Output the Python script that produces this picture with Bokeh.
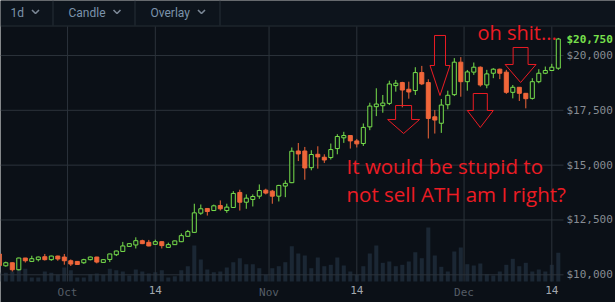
import pandas as pd
from bokeh.plotting import figure
from bokeh.models import (Range1d, FixedTicker, NumeralTickFormatter, LinearAxis,
                          ColumnDataSource)
from bokeh.core.properties import value
from bokeh.embed import file_html
from bokeh.resources import INLINE

# ---------------- data ----------------
first_day = "2017-09-20 12:00"
opens = [10950, 10410, 10550, 10230, 10765, 10610, 10690, 10825, 10690, 10855,
         10810, 10640, 10610, 10550, 10690, 10810, 10565, 10700, 10915, 11065,
         11295, 11360, 11555, 11480, 11390, 11510, 11250, 11375, 11510, 11755,
         11935, 12810, 13025, 12930, 13160, 12930, 13070, 13755, 13310, 13435,
         13585, 13860, 13815, 13585, 14045, 14200, 15645, 15645, 14885, 15495,
         15360, 15345, 15755, 16245, 16350, 16105, 15985, 16745, 17665, 17710,
         17815, 18625, 18765, 18460, 18400, 19220, 18765, 17205, 16910, 17755,
         18215, 19695, 18805, 19240, 19465, 18655, 19190, 19375, 19240, 18320,
         18550, 18275, 18045, 18805, 19190, 19315, 19420]
closes = [10420, 10550, 10230, 10765, 10640, 10735, 10810, 10690, 10855, 10720,
          10640, 10490, 10470, 10690, 10810, 10580, 10690, 10950, 11085, 11315,
          11420, 11555, 11420, 11315, 11510, 11330, 11375, 11545, 11785, 11970,
          12825, 13010, 12885, 13145, 13010, 13085, 13710, 13310, 13495, 13570,
          13845, 13725, 13585, 14075, 14170, 15635, 15510, 14870, 15485, 15375,
          15235, 15710, 16305, 16350, 16105, 15970, 16720, 17695, 17785, 17830,
          18700, 18735, 18425, 18335, 19220, 18705, 17130, 17055, 17740, 18185,
          19695, 18805, 19250, 19465, 18655, 19160, 19375, 19190, 18320, 18550,
          18275, 18030, 18805, 19190, 19315, 19465, 20750]
highs = [11000, 10600, 10560, 10780, 10770, 10870, 10830, 10950, 10870, 10870,
         10950, 10700, 10620, 10730, 10830, 10820, 10700, 10960, 11100, 11500,
         11440, 11710, 11600, 11590, 11600, 11520, 11465, 11560, 11890, 12045,
         13240, 13205, 13040, 13200, 13390, 13240, 13815, 13880, 13665, 13665,
         14120, 13925, 13870, 14100, 14305, 15805, 16010, 15830, 15680, 15860,
         15495, 15985, 16410, 16520, 16360, 16195, 16900, 17845, 18505, 18200,
         18850, 18885, 18800, 18805, 19465, 19525, 18915, 17510, 18015, 18395,
         19880, 19925, 19340, 19680, 19500, 19345, 19420, 19400, 19345, 18655,
         18560, 18290, 18965, 19375, 19495, 19620, 20800]
lows = [10380, 10370, 10150, 10200, 10560, 10600, 10610, 10650, 10640, 10640,
        10460, 10400, 10450, 10500, 10660, 10520, 10550, 10580, 10855, 11050,
        11280, 11200, 11400, 11300, 11370, 11200, 11240, 11360, 11490, 11740,
        11920, 12735, 12700, 12910, 12930, 12825, 13050, 12930, 13010, 13115,
        13465, 13665, 13240, 13345, 13540, 14180, 15185, 14335, 14765, 14840,
        15100, 15255, 15495, 16015, 15755, 15805, 15875, 16595, 17235, 17390,
        17740, 18350, 17635, 18030, 18200, 18650, 16215, 16440, 16470, 17545,
        18150, 18120, 18395, 19115, 18580, 18505, 18965, 18920, 18250, 18045,
        17925, 17590, 17990, 18735, 19150, 19290, 19345]
volumes = [9, 8.7, 10, 12.7, 12.7, 4, 4, 10, 8.7, 6.7,
           14, 11.3, 4, 4, 7.3, 8, 6.7, 12.7, 11.3, 10,
           6, 12, 10, 8, 9.3, 11.3, 4, 5.3, 11.3, 15.3,
           36, 22, 12, 9.3, 10, 14, 19.3, 23.3, 17.3, 17.3,
           13.3, 6.7, 13.3, 15.3, 19.3, 35.3, 28, 26, 13.3, 24,
           15.3, 16.7, 24, 16, 10, 6.7, 15.3, 28, 36, 18.7,
           20, 15.3, 16.7, 20, 29.3, 23.3, 54, 26, 14.7, 10,
           30, 34, 17.3, 16, 18, 7.3, 6, 10, 16.7, 22.7,
           15.3, 18.7, 10, 12, 10, 16.7, 28.7]

price_ticks = [10000, 12500, 15000, 17500, 20000]
month_ticks = ["2017-10-01 00:00", "2017-11-01 00:00", "2017-12-01 00:00"]
month_labels = ["Oct", "Nov", "Dec"]
day_ticks = ["2017-10-14 12:00", "2017-11-14 12:00", "2017-12-14 12:00"]
day_labels = ["14", "14", "14"]

note_lines = ["It would be stupid to", "not sell ATH am I right?"]
note2 = "oh shit..."
menu_items = ["1d", "Candle", "Overlay"]

# ---------------- styles ----------------
BG = "#0b1017"
HDR = "#0d141c"
GRID = "#2c333b"
SEP = "#262e37"
GREEN = "#78e04c"
ORANGE = "#f0663a"
RED = "#ec1c24"
VOLC = "#1b2734"
MONO = "DejaVu Sans Mono"
DAY = 86400000

W, H = 615, 302
Y_LO, Y_HI = 8737, 22507          # price range covered by the whole picture height
Y_TOP = 21322                     # price level at the bottom of the menu bar
VOL_BASE = 9694                   # price level of the volume baseline / date axis


def ms(s):
    return int(pd.Timestamp(s).value // 10**6)


x0 = ms(first_day)
xs = [x0 + i * DAY for i in range(len(opens))]


def kx(k):
    return x0 + k * DAY


X_LO, X_HI = kx(0.185), kx(94.8)
X_EDGE = kx(86.8)                 # right edge of the plotting area

inc = [c >= o for o, c in zip(opens, closes)]
src = ColumnDataSource(dict(
    x=xs, open=opens, close=closes, high=highs, low=lows, vol=volumes,
    top=[max(o, c) for o, c in zip(opens, closes)],
    bottom=[min(o, c) for o, c in zip(opens, closes)],
    line=[GREEN if u else ORANGE for u in inc],
    fill=[BG if u else ORANGE for u in inc],
))

p = figure(width=W, height=H,
           x_range=Range1d(X_LO, X_HI), y_range=Range1d(Y_LO, Y_HI),
           toolbar_location=None, output_backend="svg", y_axis_location="right",
           min_border=0, background_fill_color=BG, border_fill_color=BG,
           outline_line_color=None)
p.grid.visible = False
p.extra_y_ranges = {"vol": Range1d(-21, 281), "py": Range1d(H, 0)}
p.extra_x_ranges = {"px": Range1d(0, W)}

# volume
p.vbar(x="x", width=0.62 * DAY, top="vol", bottom=0, y_range_name="vol",
       fill_color=VOLC, line_color=None, source=src)

# grid lines, limited to the plotting area
all_dt = [ms(d) for d in month_ticks + day_ticks]
p.segment(x0=all_dt, y0=[VOL_BASE] * len(all_dt), x1=all_dt, y1=[Y_TOP] * len(all_dt),
          line_color=GRID, line_width=1)
p.segment(x0=[X_LO] * len(price_ticks), y0=price_ticks, x1=[X_EDGE] * len(price_ticks),
          y1=price_ticks, line_color=GRID, line_width=1)

# candles
p.segment(x0="x", y0="low", x1="x", y1="high", line_color="line", line_width=1, source=src)
p.vbar(x="x", width=0.62 * DAY, top="top", bottom="bottom", fill_color="fill",
       line_color="line", line_width=1, source=src)

# menu bar (pixel coordinates)
p.quad(left=[0], right=[W], top=[0], bottom=[25], fill_color=HDR, line_color=None,
       x_range_name="px", y_range_name="py")
menu_x = [10, 68, 150]
chev_x = [35, 116.5, 201]
p.text(x=menu_x, y=[12.5] * 3, text=menu_items, text_font=value("Roboto"),
       text_font_size="12px", text_color="#7b93ab", text_baseline="middle",
       x_range_name="px", y_range_name="py")
p.multi_line(xs=[[c - 3.5, c, c + 3.5] for c in chev_x],
             ys=[[9.5, 13, 9.5]] * 3, line_color="#7b8896", line_width=1.6,
             x_range_name="px", y_range_name="py")
p.segment(x0=[52.5, 134.5, 219.5], y0=[0] * 3, x1=[52.5, 134.5, 219.5], y1=[25] * 3,
          line_color=SEP, line_width=1, x_range_name="px", y_range_name="py")
p.segment(x0=[0], y0=[25.5], x1=[W], y1=[25.5], line_color=SEP, line_width=1,
          x_range_name="px", y_range_name="py")

# arrows (annotations drawn on the chart)
arrows = [  # centre (day index), shaft half, head half, top, shaft bottom, tip
    (62.2, 1.23, 2.46, 17720, 17082, 16443),
    (67.8, 0.85, 1.54, 20912, 19544, 18176),
    (74.0, 1.08, 2.00, 18267, 17492, 16717),
    (80.2, 1.15, 2.38, 20365, 19590, 18769),
]
axs, ays = [], []
for c, s, h, t, sb, tip in arrows:
    axs.append([kx(c - s), kx(c + s), kx(c + s), kx(c + h), kx(c), kx(c - h), kx(c - s)])
    ays.append([t, t, sb, sb, tip, sb, sb])
p.patches(xs=axs, ys=ays, fill_alpha=0, line_color=RED, line_width=1)

p.text(x=[kx(53.42), kx(53.42)], y=[14961, 13684], text=note_lines,
       text_font=value("Open Sans"), text_font_size="20.5px",
       text_color=RED, text_baseline="middle", text_align="left")
p.text(x=[kx(73.57)], y=[21050], text=[note2],
       text_font=value("Open Sans"), text_font_size="20px",
       text_color=RED, text_baseline="middle", text_align="left")


def style_axis(ax, color, bold=False):
    ax.major_label_text_font = MONO
    ax.major_label_text_font_size = "11px"
    ax.major_label_text_color = color
    if bold:
        ax.major_label_text_font_style = "bold"
    ax.axis_line_color = None
    ax.major_tick_line_color = None
    ax.minor_tick_line_color = None
    ax.major_tick_out = 0
    ax.major_tick_in = 0


# price axis (right)
ya = p.yaxis[0]
ya.fixed_location = X_EDGE
ya.ticker = FixedTicker(ticks=price_ticks)
ya.formatter = NumeralTickFormatter(format="$0,0")
style_axis(ya, "#868c93")
ya.major_label_standoff = 3

# last price tag
ya2 = LinearAxis(fixed_location=X_EDGE, ticker=FixedTicker(ticks=[closes[-1]]),
                 formatter=NumeralTickFormatter(format="$0,0"))
style_axis(ya2, GREEN, bold=True)
ya2.major_label_standoff = 3
p.add_layout(ya2, "right")

# date axes (bottom): months dim, day-of-month bright
xa = p.xaxis[0]
xa.fixed_location = VOL_BASE
m_ms = [ms(d) for d in month_ticks]
xa.ticker = FixedTicker(ticks=m_ms)
xa.major_label_overrides = {t: lab for t, lab in zip(m_ms, month_labels)}
style_axis(xa, "#555d66")
xa.major_label_standoff = 4

d_ms = [ms(d) for d in day_ticks]
xa2 = LinearAxis(fixed_location=VOL_BASE, ticker=FixedTicker(ticks=d_ms),
                 major_label_overrides={t: lab for t, lab in zip(d_ms, day_labels)})
style_axis(xa2, "#a2a8ae")
xa2.major_label_standoff = 4
p.add_layout(xa2, "below")

open("out.html", "w").write(file_html(p, INLINE))
